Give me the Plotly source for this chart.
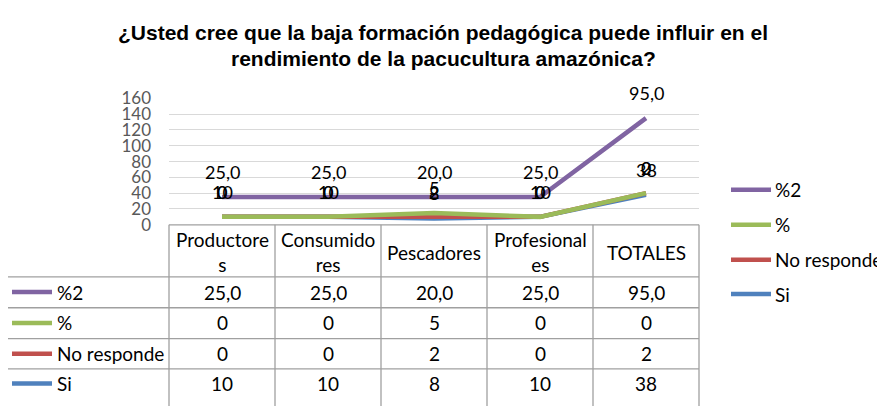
import plotly.graph_objects as go
import numpy as np

# ---------------- data ----------------
categories = ["Productores", "Consumidores", "Pescadores", "Profesionales", "TOTALES"]
header_labels = ["Productore<br>s", "Consumido<br>res", "Pescadores", "Profesional<br>es", "TOTALES"]
si = [10, 10, 8, 10, 38]
no_responde = [0, 0, 2, 0, 2]
pct = [0, 0, 5, 0, 0]
pct2 = [25.0, 25.0, 20.0, 25.0, 95.0]
y_ticks = [0, 20, 40, 60, 80, 100, 120, 140, 160]
title_lines = ["¿Usted cree que la baja formación pedagógica puede influir en el",
               "rendimiento de la pacucultura amazónica?"]

# drawing order (bottom of stack first)
series = [
    ("Si", si, "#4F81BD", "{:d}"),
    ("No responde", no_responde, "#C0504D", "{:d}"),
    ("%", pct, "#9BBB59", "{:d}"),
    ("%2", pct2, "#8064A2", "{:.1f}"),
]

W, H = 885, 406
OX, OY = 8, 8  # page offset of the plot div
FONT = "Lato, Calibri, Carlito, sans-serif"


def px(x):
    return (x - OX) / W


def py(y):
    return 1 - (y - OY) / H


def fmt(f, v):
    return f.format(v).replace(".", ",")


stack = np.cumsum(np.array([s[1] for s in series], dtype=float), axis=0)

fig = go.Figure()
annotations = []
shapes = []

for i, (name, vals, color, f) in enumerate(series):
    fig.add_trace(go.Scatter(
        x=categories, y=stack[i], mode="lines", name=name,
        line=dict(color=color, width=4.5), showlegend=False, hoverinfo="skip"))
    for c, v, sy in zip(categories, vals, stack[i]):
        annotations.append(dict(
            x=c, y=sy, xref="x", yref="y", text=fmt(f, v), showarrow=False,
            yshift=25, font=dict(family=FONT, size=18, color="#000000"),
            xanchor="center", yanchor="middle"))

# ---------------- layout geometry ----------------
X0, X1 = 169, 699
Y_TOP, Y_BOT = 91.7, 225
col_w = (X1 - X0) / len(categories)
row_lines = [280, 312.5, 345, 377]
row_centers = [296, 328.5, 361, 392.5]
LEFT = 6
GRID = "#a0a0a0"
TFONT = dict(family=FONT, size=19, color="#000000")

# title
for yy, line in zip([22, 50], title_lines):
    annotations.append(dict(x=px(443), y=py(yy), xref="paper", yref="paper", text="<b>%s</b>" % line,
                            showarrow=False, xanchor="center", yanchor="middle",
                            font=dict(family="Liberation Sans, Arial", size=21, color="#000000")))

# table lines
shapes.append(dict(type="line", xref="paper", yref="paper", x0=px(X0), x1=px(X1), y0=py(Y_BOT), y1=py(Y_BOT),
                   line=dict(color=GRID, width=1.3)))
for yl in row_lines:
    shapes.append(dict(type="line", xref="paper", yref="paper", x0=px(LEFT), x1=px(X1), y0=py(yl), y1=py(yl),
                       line=dict(color=GRID, width=1.3)))
shapes.append(dict(type="line", xref="paper", yref="paper", x0=px(LEFT), x1=px(LEFT), y0=py(row_lines[0]),
                   y1=py(H + 10), line=dict(color=GRID, width=1.3)))
for k in range(len(categories) + 1):
    xv = X0 + k * col_w
    shapes.append(dict(type="line", xref="paper", yref="paper", x0=px(xv), x1=px(xv), y0=py(Y_BOT),
                       y1=py(H + 10), line=dict(color=GRID, width=1.3)))

# header
for k, lab in enumerate(header_labels):
    annotations.append(dict(x=px(X0 + (k + 0.5) * col_w), y=py(254), xref="paper", yref="paper", text=lab,
                            showarrow=False, xanchor="center", yanchor="middle", font=TFONT))

# rows (top to bottom: %2, %, No responde, Si)
for r, (name, vals, color, f) in enumerate(reversed(series)):
    yc = row_centers[r]
    shapes.append(dict(type="line", xref="paper", yref="paper", x0=px(12), x1=px(52), y0=py(yc), y1=py(yc),
                       line=dict(color=color, width=4.5)))
    annotations.append(dict(x=px(55), y=py(yc), xref="paper", yref="paper", text=name, showarrow=False,
                            xanchor="left", yanchor="middle", font=TFONT))
    for k, v in enumerate(vals):
        annotations.append(dict(x=px(X0 + (k + 0.5) * col_w), y=py(yc), xref="paper", yref="paper",
                                text=fmt(f, v), showarrow=False, xanchor="center", yanchor="middle",
                                font=TFONT))

# right legend
leg_y = [188, 225, 262, 298]
for r, (name, vals, color, f) in enumerate(reversed(series)):
    yc = leg_y[r]
    shapes.append(dict(type="line", xref="paper", yref="paper", x0=px(731), x1=px(771), y0=py(yc), y1=py(yc),
                       line=dict(color=color, width=4.5)))
    annotations.append(dict(x=px(773), y=py(yc), xref="paper", yref="paper", text=name, showarrow=False,
                            xanchor="left", yanchor="middle", font=TFONT))

fig.update_layout(
    width=W, height=H,
    margin=dict(l=0, r=0, t=0, b=0),
    paper_bgcolor="white", plot_bgcolor="white",
    showlegend=False,
    xaxis=dict(domain=[px(X0), px(X1)], type="category", categoryorder="array", categoryarray=categories,
               range=[-0.5, len(categories) - 0.5], showticklabels=False, showgrid=False, zeroline=False,
               showline=False, ticks=""),
    yaxis=dict(domain=[py(Y_BOT), py(Y_TOP)], range=[0, 160], tickvals=y_ticks, showgrid=True,
               gridcolor="#d9d9d9", gridwidth=1, zeroline=False, showline=False, ticks="",
               tickfont=dict(family=FONT, size=17, color="#595959"), ticklabelstandoff=17),
    annotations=annotations,
    shapes=shapes,
)

fig.write_html("out.html")
